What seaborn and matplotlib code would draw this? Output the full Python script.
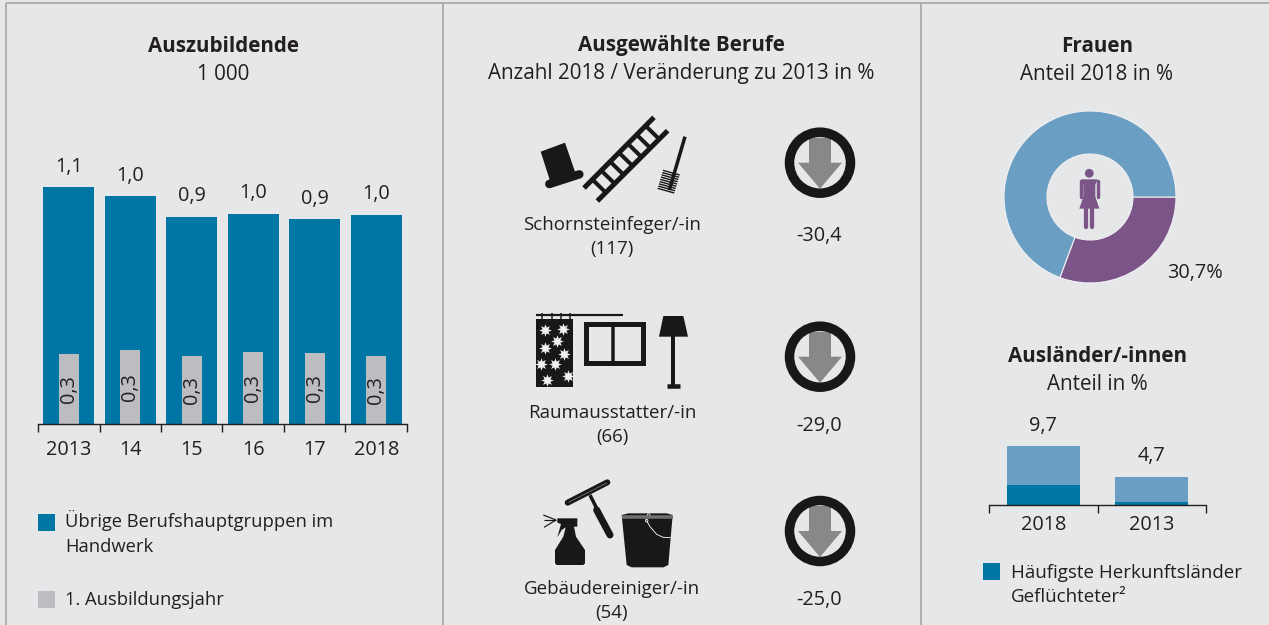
import matplotlib
matplotlib.use('Agg')
import numpy as np
import seaborn as sns
import matplotlib.pyplot as plt
from matplotlib.patches import Circle, Polygon, Rectangle

# data
years = ['2013', '14', '15', '16', '17', '2018']
azubi_total = [1.08, 1.04, 0.945, 0.96, 0.935, 0.955]
azubi_first = [0.32, 0.338, 0.31, 0.329, 0.324, 0.31]
azubi_total_labels = ['1,1', '1,0', '0,9', '1,0', '0,9', '1,0']
azubi_first_labels = ['0,3'] * 6

berufe = ['Schornsteinfeger/-in\n(117)', 'Raumausstatter/-in\n(66)', 'Gebäudereiniger/-in\n(54)']
berufe_change = ['-30,4', '-29,0', '-25,0']

frauen_share = [30.7, 69.3]

auslaender_years = ['2018', '2013']
auslaender_total = [9.7, 4.7]
auslaender_flucht = [3.3, 0.5]
auslaender_labels = ['9,7', '4,7']

BG = '#e6e7e9'
BLUE = '#0076a5'
GREY = '#bcbdc1'
LIGHT = '#6a9ec3'
PURPLE = '#7b5588'
ARROW = '#87888a'
INK = '#231f20'
DK = '#1a1718'
W, H = 1269, 625

sns.set_theme(style='white')
plt.rcParams['font.family'] = ['Open Sans', 'DejaVu Sans']
plt.rcParams['text.color'] = INK
plt.rcParams['axes.labelcolor'] = INK
plt.rcParams['xtick.color'] = INK
FS = 13.5
FS_NUM = 14.3
FS_HEAD = 14.9

fig = plt.figure(figsize=(W / 100, H / 100), dpi=100, facecolor=BG)


def px_axes(x0, y0, x1, y1):
    # axes from pixel box, y counted from the top
    a = fig.add_axes([x0 / W, 1 - y1 / H, (x1 - x0) / W, (y1 - y0) / H])
    a.patch.set_alpha(0)
    return a


def px(w):
    return w * 0.72


# overlay in pixel coordinates for frames, text and icons
ov = px_axes(0, 0, W, H)
ov.set_xlim(0, W)
ov.set_ylim(H, 0)
ov.axis('off')

for x in [6, 443, 921]:
    ov.plot([x, x], [3, H], color='#a7a9ac', lw=1.3, solid_capstyle='butt')
ov.plot([6, W], [3, 3], color='#a7a9ac', lw=1.3, solid_capstyle='butt')


def title(x, y, bold, sub):
    ov.text(x, y, bold, ha='center', va='center', fontsize=FS_HEAD, fontweight='bold')
    ov.text(x, y + 28, sub, ha='center', va='center', fontsize=FS_HEAD)


title(223, 46, 'Auszubildende', '1 000')
title(681, 46, 'Ausgewählte Berufe', 'Anzahl 2018 / Veränderung zu 2013 in %')
title(1097, 46, 'Frauen', 'Anteil 2018 in %')
title(1097, 356, 'Ausländer/-innen', 'Anteil in %')


def style_axis(a, n, pad):
    a.set_xlim(-0.5, n - 0.5)
    a.set_xlabel('')
    a.set_ylabel('')
    a.set_yticks([])
    a.set_xticks(np.arange(n))
    a.set_xticks(np.arange(n + 1) - 0.5, minor=True)
    a.tick_params(axis='x', which='major', length=0, pad=pad, labelsize=FS_NUM)
    a.tick_params(axis='x', which='minor', length=6, width=1, color=INK, bottom=True)
    sns.despine(ax=a, left=True)
    a.spines['bottom'].set_color(INK)
    a.spines['bottom'].set_linewidth(1)


# left bars
ax1 = px_axes(38, 161, 407, 424)
sns.barplot(x=years, y=azubi_total, color=BLUE, saturation=1, width=0.83, linewidth=0, ax=ax1)
sns.barplot(x=years, y=azubi_first, color=GREY, saturation=1, width=0.33, linewidth=0, ax=ax1)
ax1.set_ylim(0, 1.2)
style_axis(ax1, 6, 11.5)
ax1.bar_label(ax1.containers[0], labels=azubi_total_labels, padding=7.5, fontsize=FS_NUM)
ax1.bar_label(ax1.containers[1], labels=azubi_first_labels, label_type='center', rotation=90, fontsize=FS_NUM)

# donut
ax2 = px_axes(1004, 111, 1176, 283)
ax2.pie(frauen_share, colors=[PURPLE, LIGHT], startangle=0, counterclock=False, radius=1,
        wedgeprops=dict(width=0.5, edgecolor='#f0f0f2', linewidth=0.8))
ax2.set_xlim(-1, 1)
ax2.set_ylim(-1, 1)
ov.text(1195, 273, '30,7%', ha='center', va='center', fontsize=FS_NUM)

# small bars
ax3 = px_axes(989, 420, 1206, 505)
sns.barplot(x=auslaender_years, y=auslaender_total, color=LIGHT, saturation=1, width=0.67, linewidth=0, ax=ax3)
sns.barplot(x=auslaender_years, y=auslaender_flucht, color=BLUE, saturation=1, width=0.67, linewidth=0, ax=ax3)
ax3.set_ylim(0, 85 / 6.05)
style_axis(ax3, 2, 7)
ax3.bar_label(ax3.containers[0], labels=auslaender_labels, padding=7.5, fontsize=FS_NUM)

# legends
for x, y, c in [(38, 514, BLUE), (38, 591, GREY), (983, 563, BLUE)]:
    ov.add_patch(Rectangle((x, y), 17, 17, color=c, lw=0))
ov.text(65, 533, 'Übrige Berufshauptgruppen im\nHandwerk', ha='left', va='center', fontsize=13.2, linespacing=1.5)
ov.text(65, 600, '1. Ausbildungsjahr', ha='left', va='center', fontsize=13.2)
ov.text(1011, 585, 'Häufigste Herkunftsländer\nGeflüchteter²', ha='left', va='center', fontsize=FS, linespacing=1.38)

# middle panel text
for name, cy_name, change, cy_change in zip(berufe, [237, 425, 601], berufe_change, [236, 426, 600]):
    ov.text(612, cy_name, name, ha='center', va='center', fontsize=FS, linespacing=1.48)
    ov.text(819, cy_change, change, ha='center', va='center', fontsize=FS_NUM)

# down arrows in rings
for cy in [162.7, 356.7, 531]:
    ov.add_patch(Polygon([(809, cy - 25), (831, cy - 25), (831, cy), (842, cy), (820, cy + 26),
                          (798, cy), (809, cy)], color=ARROW, lw=0))
    ov.add_patch(Circle((820, cy), 30.5, fill=False, ec=DK, lw=px(9.5)))


def zp(pts, ox, oy):
    return [(ox + a / 3, oy + b / 3) for a, b in pts]


def zline(pts, ox, oy, width, color=DK, cap='butt'):
    p = np.array(zp(pts, ox, oy))
    ov.plot(p[:, 0], p[:, 1], color=color, lw=px(width), solid_capstyle=cap, solid_joinstyle='round')


def zpoly(pts, ox, oy, color=DK):
    ov.add_patch(Polygon(zp(pts, ox, oy), color=color, lw=0))


# hat
zpoly([(122, 155), (195, 128), (225, 215), (150, 242)], 500, 100)
zline([(148, 252), (238, 223)], 500, 100, 8.5, cap='round')
# ladder
zline([(252, 264), (462, 52)], 500, 100, 5)
zline([(292, 303), (503, 92)], 500, 100, 5)
for t in np.linspace(0.12, 0.88, 7):
    a = (252 + t * 210, 264 - t * 212)
    b = (292 + t * 211, 303 - t * 211)
    zline([a, b], 500, 100, 4)
# brush
zline([(555, 110), (508, 270)], 500, 100, 3.5)
for t in np.linspace(0, 1, 9):
    cx, cy = 513 - t * 16, 218 + t * 54
    zline([(cx - 24, cy - 7), (cx + 26, cy + 7)], 500, 100, 1.4)

# curtain, window, lamp
zline([(108, 46), (368, 46)], 500, 300, 2.2)
for rx in [125, 155, 183, 210]:
    zline([(rx, 40), (rx, 58)], 500, 300, 1.5)
ov.add_patch(Rectangle((535.7, 319.3), 37.6, 67.4, color=DK, lw=0))
flowers = np.array(zp([(135, 90), (190, 88), (170, 122), (135, 145), (192, 163), (122, 193),
                       (165, 193), (205, 227), (142, 240)], 500, 300))
ov.plot(flowers[:, 0], flowers[:, 1], ls='none', marker=(8, 1, 0), ms=9, color='#f2f2f2', mew=0)
ov.plot(flowers[:, 0], flowers[:, 1], ls='none', marker='o', ms=4, color='#f2f2f2', mew=0)
ov.add_patch(Rectangle((585.5, 324.3), 57.3, 38.8, fill=False, ec=DK, lw=px(5)))
ov.plot([613.3, 613.3], [324, 363], color=DK, lw=px(3.5), solid_capstyle='butt')
zpoly([(490, 48), (550, 48), (564, 110), (477, 110)], 500, 300)
zline([(520, 105), (520, 255)], 500, 300, 4)
zline([(500, 258), (541, 258)], 500, 300, 4.5)

# spray, squeegee, bucket
zpoly([(172, 655), (232, 655), (232, 680), (222, 680), (228, 710), (255, 750), (255, 790), (250, 795),
       (170, 795), (165, 790), (165, 750), (190, 710), (197, 682), (185, 690), (172, 712), (183, 672),
       (172, 668)], 500, 300)
for end in [(130, 645), (132, 660), (132, 682)]:
    zline([(168, 660), end], 500, 300, 1.2)
zline([(203, 608), (322, 547)], 500, 300, 6, cap='round')
zline([(206, 607), (320, 549)], 500, 300, 0.7, color='#888888')
zline([(270, 585), (295, 635)], 500, 300, 3.5)
zline([(290, 630), (330, 705)], 500, 300, 7, cap='round')
zpoly([(365, 645), (385, 640), (500, 640), (518, 645), (505, 795), (490, 802), (395, 802), (380, 795)], 500, 300)
zline([(365, 650), (518, 650)], 500, 300, 3.5, color='#6f7072')
handle_x = [440, 450, 470, 490, 512]
handle_y = [662, 680, 703, 712, 713]
zline(list(zip(handle_x, handle_y)), 500, 300, 0.9, color='#f2f2f2')
for p in [(446, 645), (440, 662)]:
    ov.add_patch(Circle(zp([p], 500, 300)[0], 1.3, fc=DK, ec='#f2f2f2', lw=0.6))

# woman in donut
ov.add_patch(Circle((1089.3, 173.3), 4.4, color=PURPLE, lw=0))
zpoly([(363, 208), (413, 208), (406, 225), (406, 260), (418, 296), (358, 296), (370, 260), (370, 225)], 960, 110, PURPLE)
zline([(363, 214), (363, 260)], 960, 110, 3.4, PURPLE, 'round')
zline([(413, 214), (413, 260)], 960, 110, 3.4, PURPLE, 'round')
zline([(379, 296), (379, 352)], 960, 110, 4.3, PURPLE, 'round')
zline([(397, 296), (397, 352)], 960, 110, 4.3, PURPLE, 'round')

fig.savefig('out.png', dpi=100, facecolor=BG)
